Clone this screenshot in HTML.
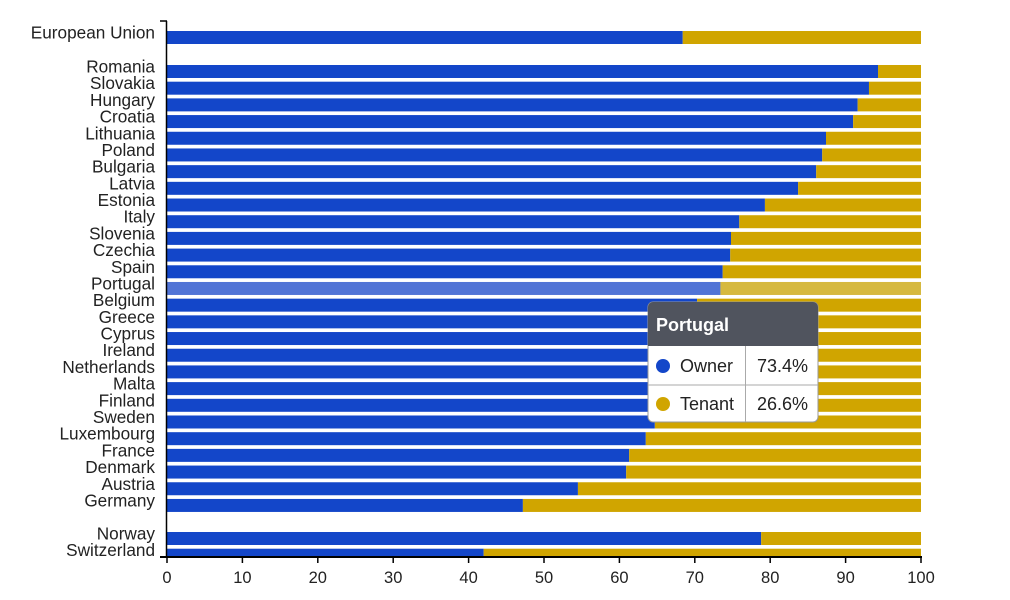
<!DOCTYPE html>
<html><head><meta charset="utf-8"><style>
body{margin:0;background:#fff;}
svg{display:block;font-family:"Liberation Sans",Arial,sans-serif;}
</style></head><body>
<svg width="1010" height="600" viewBox="0 0 1010 600">
<g id="bars"></g>
<g font-size="17.2" fill="#222" text-anchor="end" id="labels"></g>
<line x1="166.5" y1="21" x2="166.5" y2="557" stroke="#000" stroke-width="1.5"/>
<line x1="160" y1="21" x2="167" y2="21" stroke="#000" stroke-width="1.5"/>
<line x1="160" y1="557" x2="922" y2="557" stroke="#000" stroke-width="2"/>
<g id="ticks" font-size="16.5" fill="#222" text-anchor="middle"></g>
<g>
<rect x="648" y="302" width="170" height="120" rx="5" fill="#fff" stroke="#999"/>
<path d="M653 302 H813 A5 5 0 0 1 818 307 V346 H648 V307 A5 5 0 0 1 653 302Z" fill="#50545e"/>
<text x="656" y="331" fill="#fff" font-size="18" font-weight="bold">Portugal</text>
<line x1="648" y1="385" x2="818" y2="385" stroke="#aaa"/>
<line x1="745.5" y1="346" x2="745.5" y2="422" stroke="#aaa"/>
<circle cx="663" cy="366" r="7" fill="#1346c9"/>
<circle cx="663" cy="404" r="7" fill="#d0a500"/>
<text x="680" y="372" font-size="18" fill="#222">Owner</text>
<text x="680" y="410" font-size="18" fill="#222">Tenant</text>
<text x="808" y="372" font-size="18" fill="#222" text-anchor="end">73.4%</text>
<text x="808" y="410" font-size="18" fill="#222" text-anchor="end">26.6%</text>
</g>
</svg>
<script>
var d=[["European Union",68.4,31],
["Romania",94.3],["Slovakia",93.1],["Hungary",91.6],["Croatia",91.0],["Lithuania",87.4],["Poland",86.9],["Bulgaria",86.1],["Latvia",83.7],["Estonia",79.3],["Italy",75.9],["Slovenia",74.8],["Czechia",74.7],["Spain",73.7],["Portugal",73.4],["Belgium",70.3],["Greece",70],["Cyprus",69.5],["Ireland",69],["Netherlands",68],["Malta",67],["Finland",66],["Sweden",64.7],["Luxembourg",63.5],["France",61.3],["Denmark",60.9],["Austria",54.5],["Germany",47.2],
["Norway",78.8,532],["Switzerland",42.0,548.7]];
var ns="http://www.w3.org/2000/svg",b=document.getElementById("bars"),l=document.getElementById("labels");
function el(p,t,a){var e=document.createElementNS(ns,t);for(var k in a)e.setAttribute(k,a[k]);p.appendChild(e);return e;}
var x0=167,s=7.54;
d.forEach(function(r,i){var y=r[2]!==undefined?r[2]:65+(i-1)*16.69;var h=13;if(y+h>557)h=557-y;
var hl=r[0]=="Portugal";var w=r[1]*s;
el(b,"rect",{x:x0,y:y,width:w,height:h,fill:hl?"#5174d6":"#1346c9"});
el(b,"rect",{x:x0+w,y:y,width:100*s-w,height:h,fill:hl?"#d6b93f":"#d0a500"});
var t=el(l,"text",{x:155,y:y+7.5});t.textContent=r[0];});
var tk=document.getElementById("ticks");
for(var v=0;v<=100;v+=10){var x=x0+v*s;el(tk,"line",{x1:x,y1:557,x2:x,y2:563,stroke:"#000","stroke-width":1.5});var t=el(tk,"text",{x:x,y:583});t.textContent=v;}
</script>
</body></html>
